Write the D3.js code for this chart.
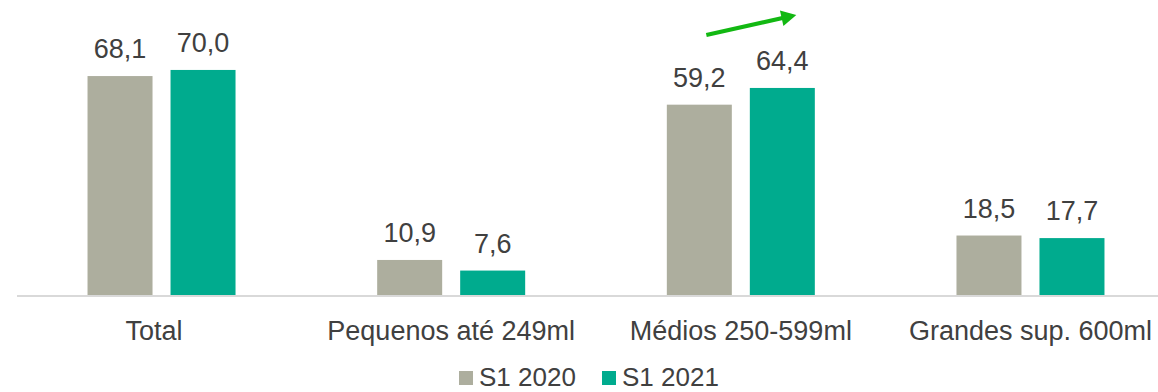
<!DOCTYPE html>
<html>
<head>
<meta charset="utf-8">
<script src="https://cdn.jsdelivr.net/npm/d3@7"></script>
<style>
  html, body { margin: 0; padding: 0; background: #ffffff; }
  svg { display: block; font-family: "Liberation Sans", Arial, sans-serif; }
</style>
</head>
<body>
<svg id="chart" width="1158" height="392"></svg>
<script>
// Categories and series
const categories = ["Total", "Pequenos até 249ml", "Médios 250-599ml", "Grandes sup. 600ml"];
const seriesNames = ["S1 2020", "S1 2021"];
const valuesS1_2020 = [68.1, 10.9, 59.2, 18.5];
const valuesS1_2021 = [70.0, 7.6, 64.4, 17.7];
const seriesColors = ["#adae9e", "#00ab8e"];

const svg = d3.select("#chart");
const textColor = "#404040";
const fontSize = 27;

const baseY = 295;
const x0 = d3.scaleBand().domain(categories).range([16.7, 1175.3]).paddingInner(0).paddingOuter(0);
const groupW = 148;
const x1 = d3.scaleBand().domain(seriesNames)
  .range([(x0.bandwidth() - groupW) / 2, (x0.bandwidth() + groupW) / 2])
  .paddingInner(0.2169).paddingOuter(0);
const y = d3.scaleLinear().domain([0, 80]).range([baseY, baseY - 80 * 3.215]);

const data = categories.map((c, i) => ({
  category: c,
  values: [
    { series: seriesNames[0], value: valuesS1_2020[i] },
    { series: seriesNames[1], value: valuesS1_2021[i] }
  ]
}));

// Baseline
svg.append("line")
  .attr("x1", 17).attr("x2", 1158)
  .attr("y1", baseY + 1).attr("y2", baseY + 1)
  .attr("stroke", "#d9d9d9").attr("stroke-width", 2);

const groups = svg.selectAll("g.grp").data(data).join("g")
  .attr("class", "grp")
  .attr("transform", d => `translate(${x0(d.category)},0)`);

groups.selectAll("rect").data(d => d.values).join("rect")
  .attr("x", d => x1(d.series))
  .attr("width", x1.bandwidth())
  .attr("y", d => y(d.value))
  .attr("height", d => baseY - y(d.value))
  .attr("fill", (d, i) => seriesColors[i]);

const fmt = v => d3.format(".1f")(v).replace(".", ",");

groups.selectAll("text.val").data(d => d.values).join("text")
  .attr("class", "val")
  .attr("x", d => x1(d.series) + x1.bandwidth() / 2)
  .attr("y", d => y(d.value) - 18)
  .attr("text-anchor", "middle")
  .attr("font-size", fontSize)
  .attr("fill", textColor)
  .text(d => fmt(d.value));

// Category axis labels
const xAxis = d3.axisBottom(x0).tickSize(0).tickPadding(0);
const axisG = svg.append("g").attr("transform", `translate(0,${baseY})`).call(xAxis);
axisG.select(".domain").remove();
axisG.selectAll("text")
  .attr("y", 0)
  .attr("dy", 45)
  .attr("font-size", fontSize)
  .attr("font-family", "Liberation Sans, Arial, sans-serif")
  .attr("fill", textColor)
  .style("white-space", "pre")
  .text(d => d === "Total" ? "Total\u00a0\u00a0" : d);

// Growth arrow over the Médios group
const mid = categories[2];
const arrowColor = "#12b812";
const ax1 = x0(mid) + x1(seriesNames[0]) + x1.bandwidth() / 2 + 7;
const ax2 = x0(mid) + x1(seriesNames[1]) + x1.bandwidth() / 2 + 14;
const ay1 = y(valuesS1_2021[2]) - 53;
const ay2 = y(valuesS1_2021[2]) - 73;
const len = Math.hypot(ax2 - ax1, ay2 - ay1);
const ux = (ax2 - ax1) / len, uy = (ay2 - ay1) / len;
const headLen = 15, headHalf = 8;
const bx = ax2 - ux * headLen, by = ay2 - uy * headLen;
svg.append("line")
  .attr("x1", ax1).attr("y1", ay1)
  .attr("x2", bx + ux * 2).attr("y2", by + uy * 2)
  .attr("stroke", arrowColor).attr("stroke-width", 4);
svg.append("path")
  .attr("d", `M${ax2},${ay2} L${bx - uy * headHalf},${by + ux * headHalf} L${bx + uy * headHalf},${by - ux * headHalf} Z`)
  .attr("fill", arrowColor);

// Legend
const legendItems = [
  { name: seriesNames[0], color: seriesColors[0], x: 459 },
  { name: seriesNames[1], color: seriesColors[1], x: 602 }
];
const lg = svg.append("g");
legendItems.forEach(it => {
  lg.append("rect").attr("x", it.x).attr("y", 371).attr("width", 14).attr("height", 14).attr("fill", it.color);
  lg.append("text").attr("x", it.x + 20).attr("y", 386)
    .attr("font-size", 26).attr("fill", textColor).text(it.name);
});
</script>
</body>
</html>
